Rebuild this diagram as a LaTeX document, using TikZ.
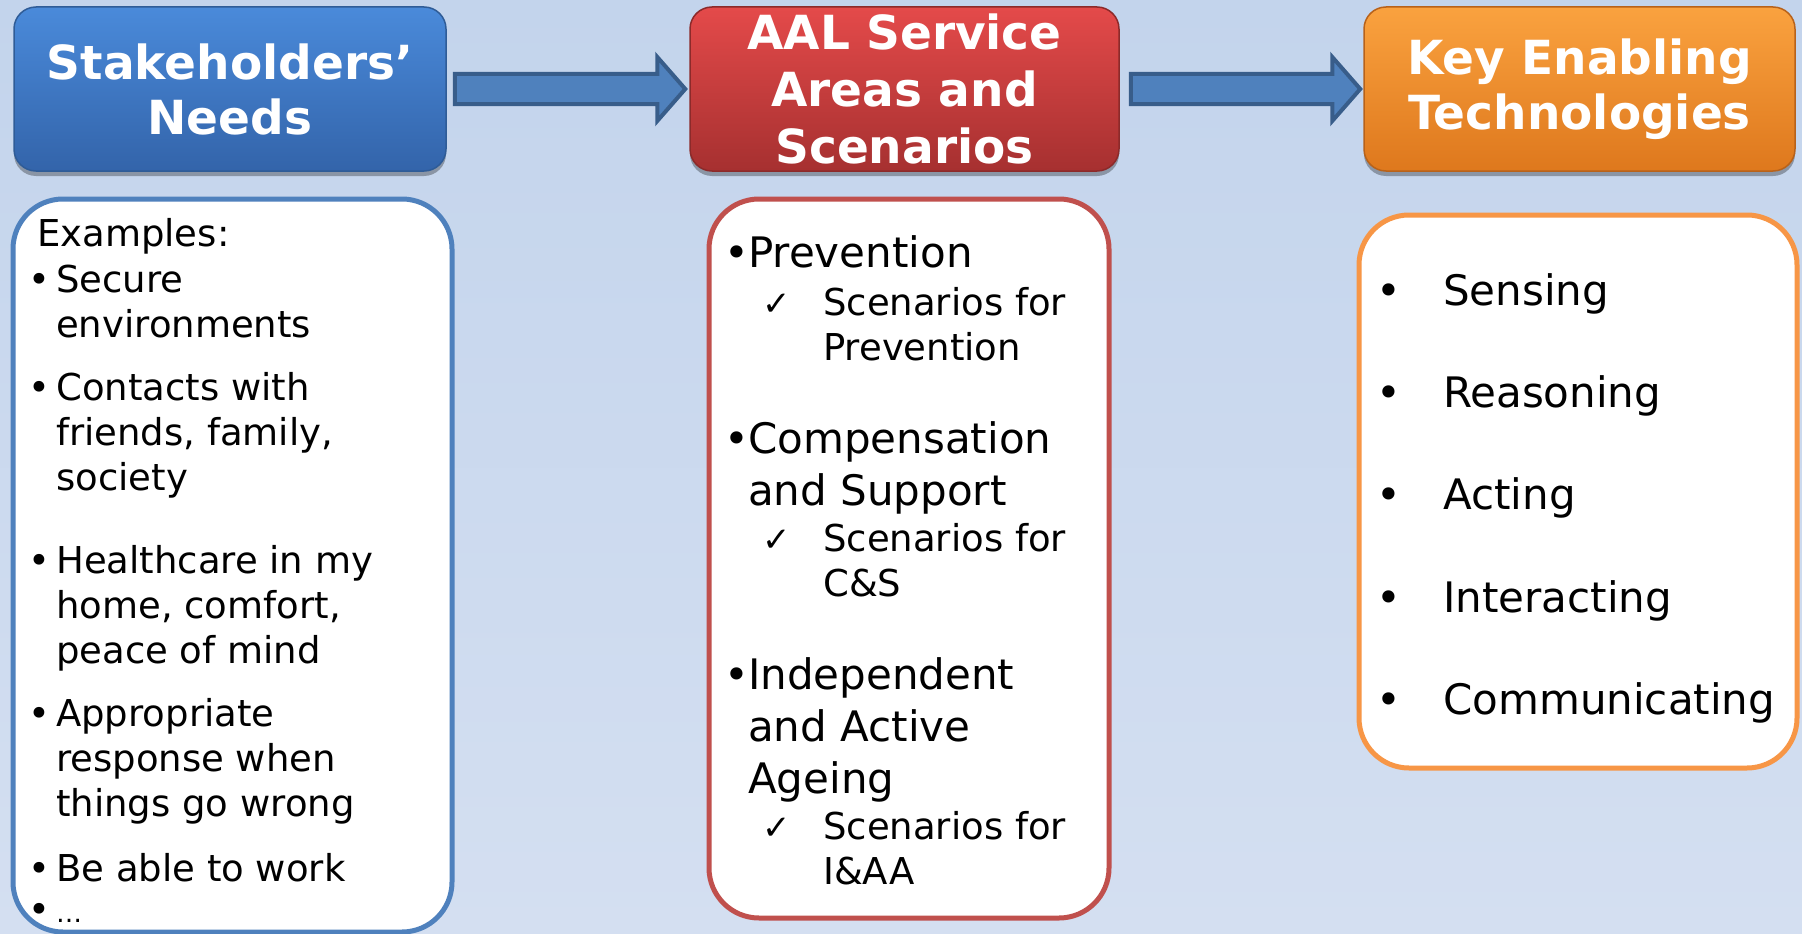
\documentclass[tikz,border=0pt]{standalone}
\usepackage{fontspec}
\setmainfont{DejaVu Sans}
\usetikzlibrary{calc,shadows}
\definecolor{bgtop}{HTML}{C3D4EC}
\definecolor{bgbot}{HTML}{D4DFF1}
\definecolor{bluetop}{HTML}{4A8ADA}
\definecolor{bluebot}{HTML}{3364AA}
\definecolor{blueedge}{HTML}{2F5C97}
\definecolor{redtop}{HTML}{E44A4A}
\definecolor{redbot}{HTML}{A63030}
\definecolor{rededge}{HTML}{8C2A2A}
\definecolor{ortop}{HTML}{FAA23F}
\definecolor{orbot}{HTML}{DE781D}
\definecolor{oredge}{HTML}{B8621A}
\definecolor{arrfill}{HTML}{4F81BD}
\definecolor{arredge}{HTML}{385D8A}
\definecolor{bline}{HTML}{4F81BD}
\definecolor{rline}{HTML}{C0504D}
\definecolor{oline}{HTML}{F79646}
\newcommand\ttlfont{\fontsize{47}{55}\selectfont\bfseries}
\newcommand\bodyfont{\fontsize{37}{45}\selectfont}
\newcommand\bigfont{\fontsize{42}{52}\selectfont}
\newcommand\chk{{\fontsize{34}{34}\selectfont ✓}}
\begin{document}
\begin{tikzpicture}[x=1pt,y=-1pt,
  titlebox/.style={rounded corners=22pt, minimum height=164pt, text=white,
    align=center, font=\ttlfont, line width=1.5pt, inner sep=0pt,
    drop shadow={shadow xshift=0pt, shadow yshift=-5pt, opacity=0.3, fill=black}},
  bodybox/.style={rounded corners=50pt, fill=white, line width=5pt, inner sep=0pt},
  txt/.style={anchor=base west, inner sep=0pt, align=left},
  blockarrow/.style={fill=arrfill, draw=arredge, line width=4pt, line join=miter}]
\fill[top color=bgtop, bottom color=bgbot] (0,0) rectangle (1802,934);
\useasboundingbox (0,0) rectangle (1802,934);

% title boxes
\node[titlebox, minimum width=432pt, top color=bluetop, bottom color=bluebot, draw=blueedge] (t1) at (230,89) {Stakeholders’\\Needs};
\node[titlebox, minimum width=429pt, top color=redtop, bottom color=redbot, draw=rededge, font=\fontsize{47}{57}\selectfont\bfseries] (t2) at (904.5,89) {AAL Service\\Areas and\\Scenarios};
\node[titlebox, minimum width=431pt, top color=ortop, bottom color=orbot, draw=oredge] (t3) at (1579.5,89) {Key Enabling\\Technologies};

% block arrows
\coordinate (a1s) at ($(t1.east)+(8,0)$);
\coordinate (a1e) at ($(t2.west)+(-4,0)$);
\draw[blockarrow] ($(a1s)+(0,-15)$) -- ($(a1e)+(-28,-15)$) -- ($(a1e)+(-28,-32)$) -- (a1e)
  -- ($(a1e)+(-28,32)$) -- ($(a1e)+(-28,15)$) -- ($(a1s)+(0,15)$) -- cycle;
\coordinate (a2s) at ($(t2.east)+(11,0)$);
\coordinate (a2e) at ($(t3.west)+(-3,0)$);
\draw[blockarrow] ($(a2s)+(0,-15)$) -- ($(a2e)+(-28,-15)$) -- ($(a2e)+(-28,-32)$) -- (a2e)
  -- ($(a2e)+(-28,32)$) -- ($(a2e)+(-28,15)$) -- ($(a2s)+(0,15)$) -- cycle;

% body boxes
\node[bodybox, draw=bline, minimum width=439pt, minimum height=733pt] (b1) at (232.5,565.5) {};
\node[bodybox, draw=rline, minimum width=400pt, minimum height=719pt] (b2) at (909,558.5) {};
\node[bodybox, draw=oline, minimum width=438pt, minimum height=553pt] (b3) at (1578,491.5) {};

% box 1 text (anchor = baseline of the last line)
\begin{scope}[every node/.style={txt, font=\bodyfont}]
\node (e0) at (37,246) {Examples:};
\node (e1) at (56,337) {\llap{\makebox[34pt]{•}}Secure\\environments};
\node (e2) at (56,490) {\llap{\makebox[34pt]{•}}Contacts with\\friends, family,\\society};
\node (e3) at (56,663) {\llap{\makebox[34pt]{•}}Healthcare in my\\home, comfort,\\peace of mind};
\node (e4) at (56,816) {\llap{\makebox[34pt]{•}}Appropriate\\response when\\things go wrong};
\node (e5) at (56,881) {\llap{\makebox[34pt]{•}}Be able to work};
\node (e6) at (56,922) {\llap{\makebox[34pt]{•}}{\fontsize{26}{30}\selectfont …}};
\end{scope}

% box 2 text
\begin{scope}[every node/.style={txt}]
\node[font=\bigfont] (p1) at (748,267) {\llap{\makebox[22pt]{•}}Prevention};
\node[font=\bodyfont] (p2) at (823,360) {\llap{\makebox[92pt]{\chk}}Scenarios for\\Prevention};
\node[font=\bigfont] (c1) at (748,505) {\llap{\makebox[22pt]{•}}Compensation\\and Support};
\node[font=\bodyfont] (c2) at (823,596) {\llap{\makebox[92pt]{\chk}}Scenarios for\\C\&S};
\node[font=\bigfont] (i1) at (748,793) {\llap{\makebox[22pt]{•}}Independent\\and Active\\Ageing};
\node[font=\bodyfont] (i2) at (823,884) {\llap{\makebox[92pt]{\chk}}Scenarios for\\I\&AA};
\end{scope}

% box 3 text
\begin{scope}[every node/.style={txt, font=\bigfont}]
\node (k1) at (1443,305) {\llap{\makebox[108pt]{•}}Sensing};
\node (k2) at (1443,407) {\llap{\makebox[108pt]{•}}Reasoning};
\node (k3) at (1443,509) {\llap{\makebox[108pt]{•}}Acting};
\node (k4) at (1443,612) {\llap{\makebox[108pt]{•}}Interacting};
\node (k5) at (1443,714) {\llap{\makebox[108pt]{•}}Communicating};
\end{scope}
\end{tikzpicture}
\end{document}
